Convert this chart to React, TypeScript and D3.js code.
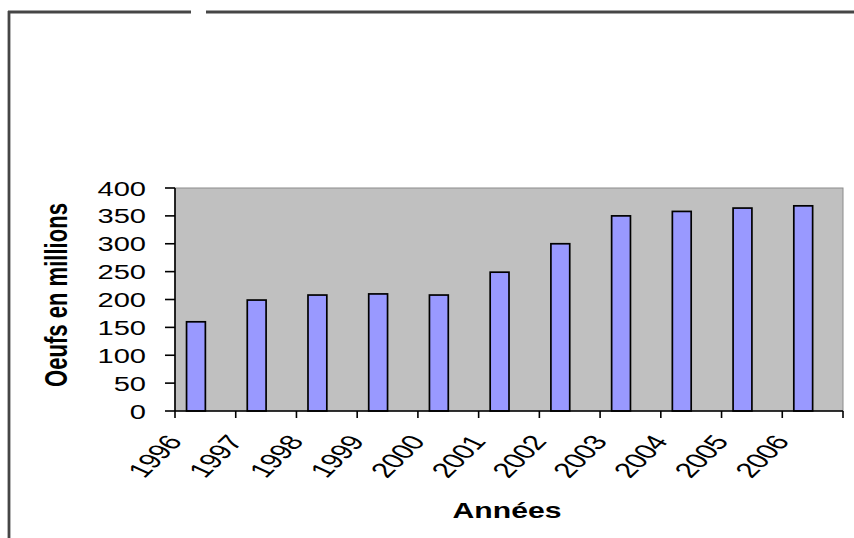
import React, { useEffect, useRef } from 'react';
import * as d3 from 'd3';

// Data
const years = ['1996', '1997', '1998', '1999', '2000', '2001', '2002', '2003', '2004', '2005', '2006'];
const eggs = [160, 199, 208, 210, 208, 249, 300, 350, 358, 364, 368];
const yTicks = [0, 50, 100, 150, 200, 250, 300, 350, 400];

const yTitle = 'Oeufs en millions';
const xTitle = 'Années';

const App: React.FC = () => {
  const svgRef = useRef<SVGSVGElement>(null);

  useEffect(() => {
    document.body.style.margin = '0';
    if (!svgRef.current) return;

    const svg = d3.select(svgRef.current);
    svg.selectAll('*').remove();

    const width = 854;
    const height = 538;
    const font = 'Arial, "Liberation Sans", sans-serif';

    const plot = { left: 175, right: 843, top: 188, bottom: 411 };

    const x = d3.scaleBand<string>()
      .domain(years)
      .range([plot.left, plot.right])
      .padding(0);

    const y = d3.scaleLinear()
      .domain([0, 400])
      .range([plot.bottom, plot.top]);

    svg.attr('width', width).attr('height', height)
      .style('display', 'block')
      .style('background', '#fff');

    // outer frame (top and left edges only, with a gap on top)
    const frame = svg.append('g').attr('stroke', '#464646').attr('stroke-width', 2.8);
    frame.append('line').attr('x1', 8).attr('x2', 191).attr('y1', 12).attr('y2', 12);
    frame.append('line').attr('x1', 206).attr('x2', width).attr('y1', 12).attr('y2', 12);
    frame.append('line').attr('x1', 9).attr('x2', 9).attr('y1', 11).attr('y2', height);

    // plot background
    svg.append('rect')
      .attr('x', plot.left)
      .attr('y', plot.top)
      .attr('width', plot.right - plot.left)
      .attr('height', plot.bottom - plot.top)
      .attr('fill', '#c0c0c0')
      .attr('stroke', '#8c8c8c')
      .attr('stroke-width', 1);

    // bars
    const bw = x.bandwidth();
    svg.append('g')
      .selectAll('rect')
      .data(eggs)
      .join('rect')
      .attr('x', (d, i) => (x(years[i]) ?? 0) + bw * 0.19)
      .attr('y', d => y(d))
      .attr('width', bw * 0.31)
      .attr('height', d => y(0) - y(d))
      .attr('fill', '#9999ff')
      .attr('stroke', '#000')
      .attr('stroke-width', 1.7);

    // y axis
    const yAxis = svg.append('g').attr('stroke', '#000').attr('stroke-width', 1.6);
    yAxis.append('line')
      .attr('x1', plot.left).attr('x2', plot.left)
      .attr('y1', plot.top).attr('y2', plot.bottom);
    yAxis.selectAll('line.tick')
      .data(yTicks)
      .join('line')
      .attr('class', 'tick')
      .attr('x1', plot.left - 10).attr('x2', plot.left)
      .attr('y1', d => y(d)).attr('y2', d => y(d));

    svg.append('g')
      .selectAll('text')
      .data(yTicks)
      .join('text')
      .attr('transform', d => `translate(146,${y(d) + 7.5}) scale(1.42,1)`)
      .attr('text-anchor', 'end')
      .style('font-family', font)
      .style('font-size', '20.5px')
      .attr('fill', '#000')
      .text(d => d);

    // x axis
    const xAxis = svg.append('g').attr('stroke', '#000').attr('stroke-width', 1.6);
    xAxis.append('line')
      .attr('x1', plot.left).attr('x2', plot.right)
      .attr('y1', plot.bottom).attr('y2', plot.bottom);
    xAxis.selectAll('line.tick')
      .data([...years.map(d => x(d) ?? 0), plot.right])
      .join('line')
      .attr('class', 'tick')
      .attr('x1', d => d).attr('x2', d => d)
      .attr('y1', plot.bottom).attr('y2', plot.bottom + 7);

    svg.append('g')
      .selectAll('text')
      .data(years)
      .join('text')
      .attr('transform', d => `translate(${(x(d) ?? 0) + 8},442) scale(1.5,1) rotate(-55)`)
      .attr('text-anchor', 'end')
      .style('font-family', font)
      .style('font-size', '21px')
      .style('letter-spacing', '-0.4px')
      .attr('fill', '#000')
      .text(d => d);

    // axis titles
    svg.append('text')
      .attr('transform', `translate(${(plot.left + plot.right) / 2 - 2},518) scale(1.37,1)`)
      .attr('text-anchor', 'middle')
      .style('font-family', font)
      .style('font-size', '22px')
      .style('font-weight', 'bold')
      .text(xTitle);

    svg.append('text')
      .attr('transform', `translate(67,295) scale(1.4,1) rotate(-90)`)
      .attr('text-anchor', 'middle')
      .attr('textLength', 184)
      .attr('lengthAdjust', 'spacingAndGlyphs')
      .style('font-family', font)
      .style('font-size', '22px')
      .style('font-weight', 'bold')
      .text(yTitle);
  }, []);

  return <svg ref={svgRef} />;
};

export default App;
